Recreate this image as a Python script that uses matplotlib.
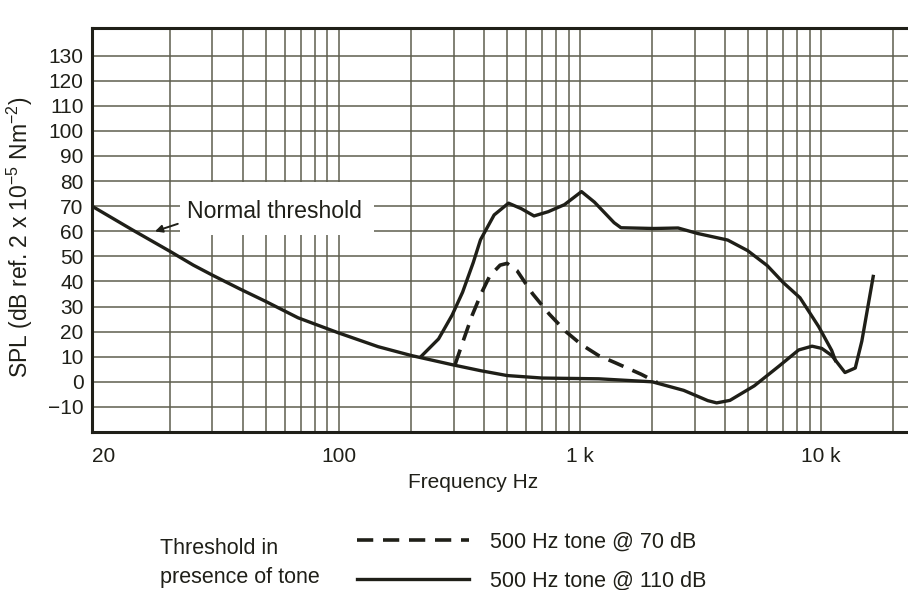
import numpy as np
import matplotlib.pyplot as plt
from matplotlib.patches import Rectangle
from matplotlib.ticker import NullLocator

plt.rcParams['font.family'] = ['Liberation Sans', 'DejaVu Sans']
plt.rcParams['mathtext.fontset'] = 'custom'
plt.rcParams['mathtext.rm'] = 'Liberation Sans'
plt.rcParams['mathtext.it'] = 'Liberation Sans:italic'

# normal hearing threshold (Hz, dB SPL)
normal_freq = [9.5, 14, 20, 25, 30, 39, 50, 68, 100, 146, 200, 300, 390, 500, 700,
               1200, 2000, 2700, 3400, 3700, 4200, 5300, 6700, 8100, 9200, 10100,
               11100, 12600, 13900, 14800, 16500]
normal_db = [70, 60.5, 52, 46.5, 42.5, 37, 32, 25.5, 19.5, 14, 10.5, 6.7, 4.4, 2.5, 1.5,
             1.2, 0, -3.4, -7.5, -8.4, -7.4, -1.6, 6.2, 12.7, 14.2, 13.3,
             10.5, 3.7, 5.5, 16.2, 42]

# threshold with 500 Hz tone @ 70 dB
tone70_freq = [304, 324, 358, 392, 424, 468, 500, 550, 638, 748, 877, 1018, 1197,
               1405, 1800, 2100]
tone70_db = [6.7, 14.5, 26.4, 35.5, 42.2, 46.5, 47.2, 44.3, 35.1, 27, 20, 14.8, 10.5,
             7.6, 3.0, -0.3]

# threshold with 500 Hz tone @ 110 dB
tone110_freq = [220, 260, 296, 327, 362, 388, 442, 507, 573, 647, 741, 865, 1018,
                1152, 1390, 1484, 2030, 2560, 3090, 4110, 4970, 6000, 6980, 8200,
                9800, 11100, 11500]
tone110_db = [10.1, 17.1, 26.6, 35.7, 47.5, 56.6, 66.5, 71.2, 69.0, 66.1, 67.8, 70.6,
              75.8, 71.6, 63.4, 61.4, 61.1, 61.3, 59.1, 56.5, 52.3, 46.3, 39.6, 33.5,
              22, 12.5, 8.5]

grid_freqs = [20, 30, 40, 50, 60, 70, 80, 90,
              100, 200, 300, 400, 500, 600, 700, 800, 900,
              1000, 2000, 3000, 4000, 5000, 6000, 7000, 8000, 9000,
              10000, 20000]
grid_levels = [-10, 0, 10, 20, 30, 40, 50, 60, 70, 80, 90, 100, 110, 120, 130]
x_ticks = [9.5, 100, 1000, 10000]
x_labels = ['20', '100', '1 k', '10 k']

ink = '#1f1f18'
grid_col = '#5e5e4e'
xmin, xmax = 9.5, 23000
ymin, ymax = -20, 141

fig = plt.figure(figsize=(9.08, 5.90), dpi=100)
ax = fig.add_axes([92 / 908, 1 - 432 / 590, 1 - 92 / 908, (432 - 28) / 590])
ax.set_xscale('log')
ax.set_xlim(xmin, xmax)
ax.set_ylim(ymin, ymax)

ax.vlines(grid_freqs, ymin, ymax, colors=grid_col, lw=1.1, zorder=1)
ax.hlines(grid_levels, xmin, xmax, colors=grid_col, lw=1.1, zorder=1)

# blank patch behind the label
ax.add_patch(Rectangle((22, 58.5), 140 - 22, 21, facecolor='white',
                       edgecolor='none', zorder=1.5))
ax.text(23.6, 65.3, 'Normal threshold', fontsize=16.6, color=ink, va='baseline', zorder=2)
ax.annotate('', xy=(16.9, 59.6), xytext=(22.1, 63.3),
            arrowprops=dict(arrowstyle='-|>', lw=1.4, color=ink, mutation_scale=11),
            zorder=2)

ax.plot(normal_freq, normal_db, color=ink, lw=2.4, zorder=3)
l70, = ax.plot(tone70_freq, tone70_db, color=ink, lw=2.6, dashes=(4.5, 2.7), zorder=3)
l110, = ax.plot(tone110_freq, tone110_db, color=ink, lw=2.4, zorder=3)

ax.set_xticks(x_ticks, x_labels)
ax.xaxis.set_minor_locator(NullLocator())
ax.set_yticks(grid_levels)
ax.tick_params(length=0, labelsize=15, colors=ink)
ax.tick_params(axis='x', pad=11)
ax.tick_params(axis='y', pad=6)
ax.get_xticklabels()[0].set_horizontalalignment('left')

for side in ['left', 'top', 'bottom']:
    ax.spines[side].set_linewidth(2.2)
    ax.spines[side].set_color(ink)
ax.spines['right'].set_visible(False)

fig.text(473 / 908, 1 - 483 / 590, 'Frequency Hz', ha='center', va='center',
         fontsize=15, color=ink)
fig.text(20 / 908, 1 - 237 / 590, 'SPL (dB ref. 2 x 10$^{-5}$ Nm$^{-2}$)',
         rotation=90, ha='center', va='center', fontsize=16.5, color=ink)

fig.text(160 / 908, 1 - 563 / 590, 'Threshold in\npresence of tone', ha='left',
         va='center', fontsize=15.5, linespacing=1.5, color=ink)
fig.legend([l70, l110], ['500 Hz tone @ 70 dB', '500 Hz tone @ 110 dB'],
           loc='upper left', bbox_to_anchor=(357 / 908, 1 - 532 / 590),
           frameon=False, fontsize=15.5, handlelength=5.2, handletextpad=1.0,
           labelspacing=0.8, borderpad=0, borderaxespad=0, labelcolor=ink)

fig.savefig('out.png', dpi=100)
